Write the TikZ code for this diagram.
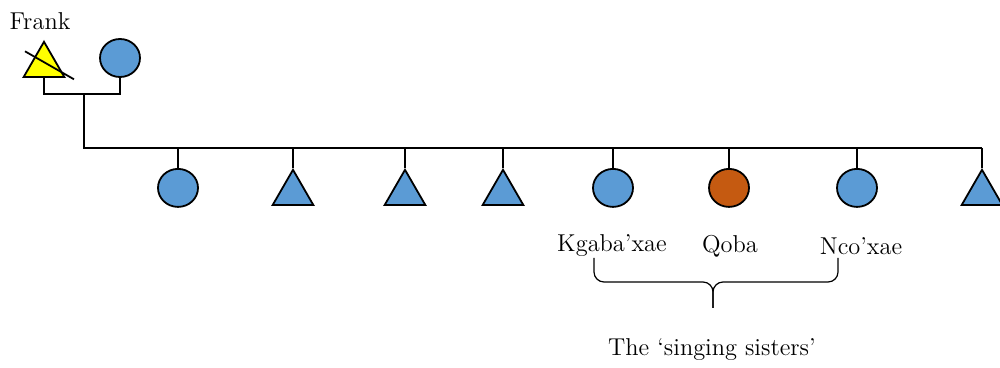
\documentclass[tikz,border=0pt]{standalone}
\usepackage{tikz}
\usetikzlibrary{shapes.geometric,positioning,calc}
\definecolor{kinblue}{HTML}{5B9BD5}
\definecolor{kinorange}{HTML}{C55A11}
\definecolor{kinyellow}{HTML}{FFFF00}
\tikzset{
  female/.style={ellipse, draw, line width=0.9pt, fill=kinblue,
    minimum width=20pt, minimum height=19pt, inner sep=0pt, anchor=north},
  singer/.style={female, fill=kinorange},
  male/.style={regular polygon, regular polygon sides=3, draw, line width=0.9pt,
    fill=kinblue, minimum size=23.5pt, inner sep=0pt, anchor=north},
  deadmale/.style={male, fill=kinyellow},
  kinline/.style={line width=1.3pt, draw=black},
  lbl/.style={font=\fontsize{12.2}{14}\selectfont, inner sep=1pt}
}
\begin{document}
\begin{tikzpicture}[x=0.5pt,y=-0.5pt]
        \useasboundingbox (0,0) rectangle (1000,368);
        % parents
        \node[deadmale] (frank) at (44,40) {};
        \node[female, anchor=center] (wife) at (120,58) {};
        \draw[line width=0.9pt] ([shift={(-19,-14)}]frank.center) -- ([shift={(30,14)}]frank.center);
        \node[lbl] (frankname) at (40,21) {Frank};
        \coordinate (mar) at (84,94);
        \coordinate (sib) at (84,148);
        \draw[kinline] (frank.south) |- (mar) -| (wife.south);
        % children
        \foreach \n/\x/\s in {k1/178/female, k2/293/male, k3/405/male, k4/503/male,
          k5/613/female, k6/729/singer, k7/857/female, k8/982/male} {
          \node[\s] (\n) at (\x,168) {};
          \draw[kinline] (sib -| \n.north) -- (\n.north);
        }
        \draw[kinline] (mar) -- (sib) -- (sib -| k8.north);
        % names
        \node[lbl] (kgaba) at (612,246) {Kgaba'xae};
        \node[lbl] (qoba) at (730,246) {Qoba};
        \node[lbl] (ncoxae) at (861,246) {Nco'xae};
        \node[lbl] (sisters) at (712,350) {The `singing sisters'};
        \coordinate (bl) at (594,258);
        \coordinate (br) at (838,258);
        \coordinate (btip) at (713,308);
        \draw[line width=0.6pt, rounded corners=5pt] (bl) -- (bl |- 0,282) -- (btip |- 0,282) -- (btip);
        \draw[line width=0.6pt, rounded corners=5pt] (br) -- (br |- 0,282) -- (btip |- 0,282) -- (btip);
      \end{tikzpicture}
\end{document}
